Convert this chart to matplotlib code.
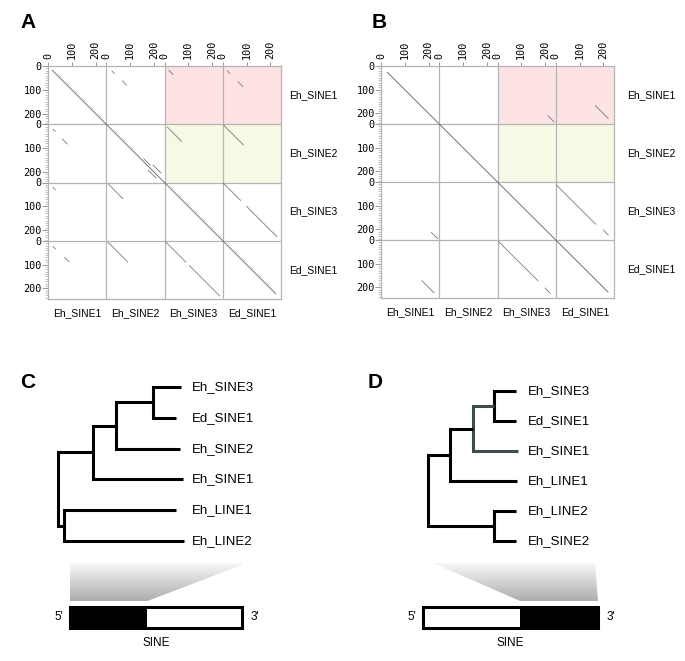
import matplotlib.pyplot as plt
import numpy as np
from matplotlib.patches import Polygon, Rectangle

plt.rcParams['font.family'] = ['Liberation Sans', 'DejaVu Sans']

W, H = 685, 661

# ---- dot plot data (A, B) ----
seq_names = ['Eh_SINE1', 'Eh_SINE2', 'Eh_SINE3', 'Ed_SINE1']
seq_len = 245
tick_vals = [0, 100, 200]
shade_rows = {0: '#fde3e3', 1: '#f6fae5'}
shade_cols = [2, 3]

# (row, col, x0, y0, x1, y1) positions inside each sequence pair
hits_a = [
    (0, 1, 24, 21, 34, 31), (0, 1, 68, 63, 85, 80),
    (1, 0, 21, 21, 30, 30), (1, 0, 60, 62, 81, 83),
    (1, 1, 158, 145, 185, 172), (1, 1, 197, 172, 230, 205), (1, 1, 176, 193, 210, 227),
    (0, 2, 18, 18, 36, 36),
    (0, 3, 19, 20, 30, 31), (0, 3, 64, 66, 85, 87),
    (1, 2, 12, 12, 72, 72),
    (1, 3, 5, 5, 87, 87),
    (2, 0, 21, 20, 31, 30),
    (2, 1, 10, 8, 70, 68),
    (2, 3, 3, 3, 75, 75), (2, 3, 100, 100, 228, 228),
    (3, 0, 21, 24, 31, 34), (3, 0, 70, 70, 88, 88),
    (3, 1, 8, 7, 90, 89),
    (3, 2, 4, 4, 90, 90), (3, 2, 105, 105, 232, 232),
]
diag_a = (18, 958)

hits_b = [
    (0, 2, 212, 210, 238, 236),
    (0, 3, 166, 167, 221, 222),
    (2, 0, 211, 212, 238, 239),
    (3, 0, 172, 172, 223, 223),
    (2, 3, 3, 13, 168, 178), (2, 3, 200, 203, 221, 224),
    (3, 2, 4, 6, 170, 172), (3, 2, 200, 203, 222, 225),
]
diag_b = (27, 955)

# ---- trees (C, D) ----
# leaf: (name, x_end); node: (x, [children], colour)
leaves_c = ['Eh_SINE3', 'Ed_SINE1', 'Eh_SINE2', 'Eh_SINE1', 'Eh_LINE1', 'Eh_LINE2']
tree_c = (0, [(35, [(58, [(95, [('Eh_SINE3', 123), ('Ed_SINE1', 118)]),
                          ('Eh_SINE2', 122)]),
                    ('Eh_SINE1', 125)]),
              (6, [('Eh_LINE1', 118), ('Eh_LINE2', 126)])])

leaves_d = ['Eh_SINE3', 'Ed_SINE1', 'Eh_SINE1', 'Eh_LINE1', 'Eh_LINE2', 'Eh_SINE2']
tree_d = (0, [(22, [(45, [(66, [('Eh_SINE3', 88), ('Ed_SINE1', 88)]),
                          ('Eh_SINE1', 90)], '#3d4d4d'),
                    ('Eh_LINE1', 89)]),
              (66, [('Eh_LINE2', 88), ('Eh_SINE2', 88)])])

# conserved part of the SINE (fraction of length)
region_c = (0.0, 0.45)
region_d = (0.555, 1.0)


def px_axes(fig, x0, y0, x1, y1):
    return fig.add_axes([x0 / W, 1 - y1 / H, (x1 - x0) / W, (y1 - y0) / H])


def dotplot(ax, hits, diag, label_pad):
    n = len(seq_names)
    L = seq_len
    tot = n * L
    for r, col in shade_rows.items():
        for c in shade_cols:
            ax.add_patch(Rectangle((c * L, r * L), L, L, color=col, lw=0, zorder=0))
    for k in range(1, n):
        ax.axvline(k * L, color='#b4b4b4', lw=0.9, zorder=1)
        ax.axhline(k * L, color='#b4b4b4', lw=0.9, zorder=1)
    ax.plot(diag, diag, color='#6a6a6a', lw=0.65, zorder=2)
    for r, c, x0, y0, x1, y1 in hits:
        ax.plot([c * L + x0, c * L + x1], [r * L + y0, r * L + y1],
                color='#7a7a7a', lw=0.6, zorder=2)
    ax.set_xlim(0, tot)
    ax.set_ylim(tot, 0)

    major = [b * L + t for b in range(n) for t in tick_vals]
    labels = [str(t) for b in range(n) for t in tick_vals]
    minor = [b * L + m for b in range(n) for m in range(0, L, 10)]
    ax.xaxis.tick_top()
    ax.set_xticks(major)
    ax.set_xticklabels(labels, rotation=90, family='DejaVu Sans Mono', fontsize=7.3)
    ax.set_yticks(major)
    ax.set_yticklabels(labels, family='DejaVu Sans Mono', fontsize=7.3)
    ax.set_yticks(minor, minor=True)
    ax.tick_params(axis='y', which='major', length=4, width=0.6, pad=0.5, color='#888888')
    ax.tick_params(axis='y', which='minor', length=2.5, width=0.4, color='#999999')
    ax.tick_params(axis='x', which='major', length=3, width=0.6, pad=2, color='#888888')
    for s in ax.spines.values():
        s.set_color('#b4b4b4')
        s.set_linewidth(0.9)

    for k, name in enumerate(seq_names):
        ax.annotate(name, xy=((k + 0.5) * L, 0), xycoords=('data', 'axes fraction'),
                    xytext=(0, -10), textcoords='offset points',
                    ha='center', va='center', fontsize=7.5)
        ax.annotate(name, xy=(1, (k + 0.5) * L), xycoords=('axes fraction', 'data'),
                    xytext=(label_pad, 0), textcoords='offset points',
                    ha='left', va='center', fontsize=7.5)


def draw_node(ax, node, leaf_y):
    # returns (x, y) of the node
    if isinstance(node[0], str):
        return node[1], leaf_y[node[0]]
    x, kids = node[0], node[1]
    col = node[2] if len(node) > 2 else 'black'
    pts = [draw_node(ax, k, leaf_y) for k in kids]
    (xa, ya), (xb, yb) = pts[0], pts[-1]
    ax.plot([xa, x, x, xb], [ya, ya, yb, yb], color=col, lw=2.2,
            solid_joinstyle='miter', solid_capstyle='butt')
    return x, (ya + yb) / 2


def draw_tree(ax, tree, leaves, label_x, xmax):
    leaf_y = {name: i for i, name in enumerate(leaves)}
    draw_node(ax, tree, leaf_y)
    for name, y in leaf_y.items():
        ax.text(label_x, y, name, va='center', ha='left', fontsize=9.5)
    ax.set_xlim(-10, xmax)
    ax.set_ylim(len(leaves) - 0.5, -0.5)
    ax.axis('off')


def draw_sine(fig, bar_px, top_span, region):
    x0, x1 = bar_px
    # zoom wedge with gradient
    wax = px_axes(fig, x0, 563, x1, 601)
    wax.set_xlim(0, 1)
    wax.set_ylim(0, 1)
    wax.axis('off')
    poly = Polygon([(top_span[0], 1), (top_span[1], 1), (region[1], 0), (region[0], 0)],
                   closed=True, fc='none', ec='none', clip_on=False)
    wax.add_patch(poly)
    g = np.linspace(0.97, 0.68, 64)
    img = np.dstack([g, g, g]).reshape(64, 1, 3)
    im = wax.imshow(img, extent=(min(top_span[0], 0), max(top_span[1], 1), 0, 1),
                    aspect='auto', origin='upper', interpolation='bilinear')
    im.set_clip_path(poly)
    wax.set_xlim(0, 1)
    wax.set_ylim(0, 1)

    bax = px_axes(fig, x0, 607, x1, 628)
    bax.set_xlim(0, 1)
    bax.set_ylim(0, 1)
    bax.axis('off')
    bax.add_patch(Rectangle((region[0], 0), region[1] - region[0], 1, fc='black', ec='none'))
    bax.add_patch(Rectangle((0, 0), 1, 1, fill=False, ec='black', lw=2.2, clip_on=False))
    bax.annotate("5'", xy=(0, 0.5), xycoords='axes fraction', xytext=(-5, 0),
                 textcoords='offset points', ha='right', va='center', fontsize=8.5)
    bax.annotate("3'", xy=(1, 0.5), xycoords='axes fraction', xytext=(6.5, 0),
                 textcoords='offset points', ha='left', va='center', fontsize=8.5)
    bax.annotate('SINE', xy=(0.5, 0), xycoords='axes fraction', xytext=(0, -11),
                 textcoords='offset points', ha='center', va='center', fontsize=8.5)


fig = plt.figure(figsize=(W / 100, H / 100), dpi=100)

ax_a = px_axes(fig, 48, 66, 281, 299)
dotplot(ax_a, hits_a, diag_a, 6)
ax_b = px_axes(fig, 381, 66, 614, 298)
dotplot(ax_b, hits_b, diag_b, 9.5)

ax_c = px_axes(fig, 48, 371.6, 338, 556.4)
draw_tree(ax_c, tree_c, leaves_c, 134, 280)
ax_d = px_axes(fig, 418, 376, 685, 556)
draw_tree(ax_d, tree_d, leaves_d, 100, 257)

draw_sine(fig, (70, 242), (-0.07, 1.03), region_c)
draw_sine(fig, (423, 598), (0.057, 0.983), region_d)

for letter, (x, y) in zip('ABCD', [(28, 23), (379, 23), (28, 383), (375, 383)]):
    fig.text(x / W, 1 - y / H, letter, fontsize=15, fontweight='bold',
             ha='center', va='center')

fig.savefig('out.png', dpi=100)
